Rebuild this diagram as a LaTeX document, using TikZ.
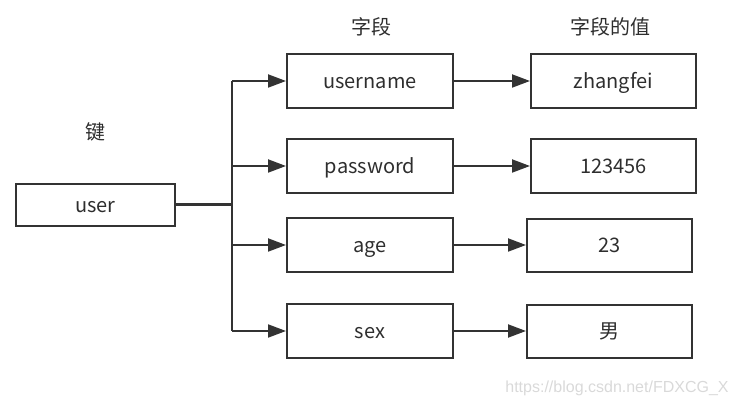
\documentclass[tikz,border=0pt]{standalone}
\usepackage{fontspec}
\setmainfont{Noto Sans CJK SC}
\newfontfamily\wmfont{Liberation Sans}
\usetikzlibrary{arrows.meta}
\definecolor{ln}{HTML}{333333}
\definecolor{wm}{HTML}{D9D9D9}
\begin{document}
\begin{tikzpicture}[x=1pt,y=-1pt,
  box/.style={draw=ln,line width=2pt,minimum height=#1,inner sep=0pt,text height=15pt,text depth=0pt,font=\fontsize{20}{22}\selectfont,text=ln!90!black},
  box/.default=54pt,
  arr/.style={draw=ln,line width=2pt,-{Triangle[length=18pt,width=13pt]}},
  lbl/.style={font=\fontsize{20}{22}\selectfont,text=ln!90!black}]
\useasboundingbox (0,0) rectangle (737,406);
\node[box=42pt,minimum width=159pt] (user) at (95.5,205) {user};
\node[lbl] (jian) at (95,132) {键};
\node[lbl] (h1) at (371,27) {字段};
\node[lbl] (h2) at (610,27) {字段的值};
\node[box,minimum width=166pt] (f1) at (370,81) {username};
\node[box,minimum width=166pt] (f2) at (370,166) {password};
\node[box,minimum width=166pt] (f3) at (370,245) {age};
\node[box,minimum width=166pt] (f4) at (370,331) {sex};
\node[box,minimum width=165pt] (v1) at (613.5,81) {zhangfei};
\node[box,minimum width=165pt] (v2) at (613.5,166) {123456};
\node[box=53pt,minimum width=165pt] (v3) at (609.5,245.5) {23};
\node[box=53pt,minimum width=165pt] (v4) at (609.5,331.5) {男};
\coordinate (j) at (232,205);
\coordinate (jt) at (232,81);
\coordinate (jb) at (232,331);
\draw[ln,line width=3pt] (user.east) -- (j);
\draw[ln,line width=2pt] (jt) -- (jb);
\draw[arr] (jt) -- (f1.west);
\draw[arr] (232,166) -- (f2.west);
\draw[arr] (232,245) -- (f3.west);
\draw[arr] (jb) -- (f4.west);
\draw[arr] (f1.east) -- (v1.west);
\draw[arr] (f2.east) -- (v2.west);
\draw[arr] (f3.east) -- (f3.east -| v3.west);
\draw[arr] (f4.east) -- (f4.east -| v4.west);
\node[font=\wmfont\fontsize{16}{18}\selectfont,text=wm] (wmk) at (617,388) {https://blog.csdn.net/FDXCG\_X};
\end{tikzpicture}
\end{document}
